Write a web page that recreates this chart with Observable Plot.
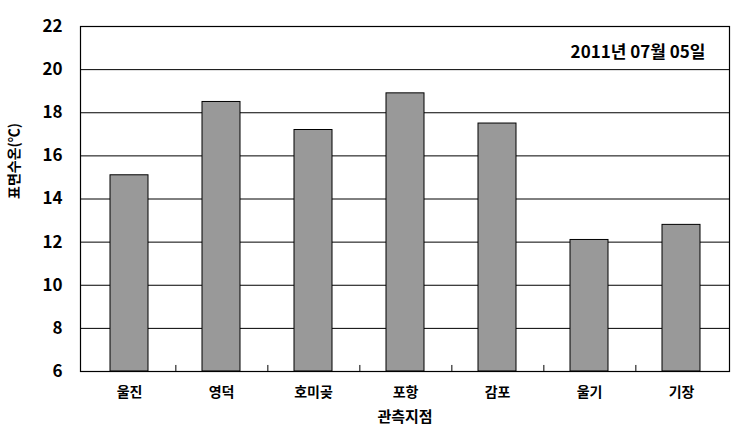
<!DOCTYPE html>
<html>
<head>
<meta charset="utf-8">
<script src="https://cdn.jsdelivr.net/npm/d3@7"></script>
<script src="https://cdn.jsdelivr.net/npm/@observablehq/plot@0.6"></script>
<style>
  html, body { margin: 0; padding: 0; background: #fff; }
  svg { display: block; }
</style>
</head>
<body>
<div id="chart"></div>
<script>
const stations = ["울진", "영덕", "호미곶", "포항", "감포", "울기", "기장"];
const temps = [15.1, 18.5, 17.2, 18.9, 17.5, 12.1, 12.8];
const yTicks = [6, 8, 10, 12, 14, 16, 18, 20, 22];
const gridValues = [8, 10, 12, 14, 16, 18, 20];
const xTitle = "관측지점";
const yTitle = "표면수온(℃)";
const dateLabel = "2011년 07월 05일";

const data = stations.map((s, i) => ({station: s, temp: temps[i]}));

const W = 742, H = 439;
const mL = 80, mR = 13, mT = 26, mB = 68;
const step = (W - mL - mR) / stations.length;
const font = "'Noto Sans CJK KR', 'Noto Sans', sans-serif";

const chart = Plot.plot({
  width: W,
  height: H,
  marginLeft: mL,
  marginRight: mR,
  marginTop: mT,
  marginBottom: mB,
  style: {fontFamily: font, background: "#fff", color: "#000"},
  x: {domain: stations, paddingInner: 0.59, paddingOuter: 0.295, label: null},
  y: {domain: [6, 22], label: null},
  marks: [
    Plot.ruleY(gridValues, {stroke: "#000", strokeWidth: 1}),
    Plot.barY(data, {x: "station", y1: 6, y2: "temp", fill: "#999999", stroke: "#000", strokeWidth: 1}),
    Plot.ruleX(stations.slice(0, -1), {x: d => d, dx: step / 2, y1: 6, y2: 6.28, stroke: "#000", strokeWidth: 1}),
    Plot.frame({stroke: "#000", strokeWidth: 1.2}),
    Plot.axisY({ticks: yTicks, tickSize: 0, tickPadding: 18, fontSize: 17, fontWeight: "bold", label: null}),
    Plot.axisX({tickSize: 0, tickPadding: 16, fontSize: 14, fontWeight: "bold", label: null}),
    Plot.text([xTitle], {frameAnchor: "bottom", dy: 50, fontSize: 15, fontWeight: "bold", text: d => d}),
    Plot.text([yTitle], {frameAnchor: "left", dx: -66, rotate: -90, fontSize: 14, fontWeight: "bold", text: d => d}),
    Plot.text([dateLabel], {frameAnchor: "top-right", dx: -24, dy: 19, fontSize: 17, fontWeight: "bold", textAnchor: "end", text: d => d})
  ]
});
document.getElementById("chart").appendChild(chart);
</script>
</body>
</html>
